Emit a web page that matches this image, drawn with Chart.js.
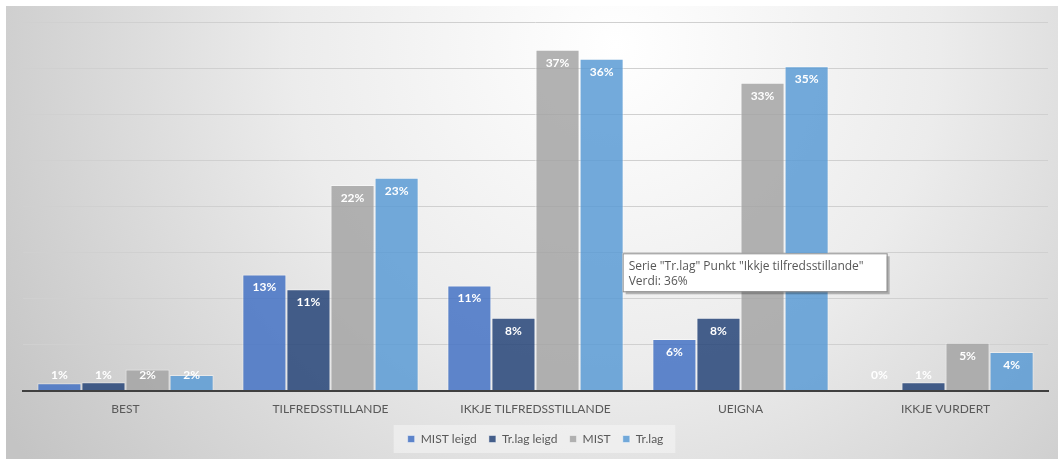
<!DOCTYPE html>
<html>
<head>
<meta charset="utf-8">
<script src="https://cdn.jsdelivr.net/npm/chart.js@4"></script>
<style>
  html, body { margin: 0; padding: 0; background: #fff; }
  #wrap { position: absolute; left: 6px; top: 6px; width: 1052px; height: 453px; }
</style>
</head>
<body>
<div id="wrap"><canvas id="chart" width="1052" height="453"></canvas></div>
<script>
// values (percent)
const categories = ['BEST', 'TILFREDSSTILLANDE', 'IKKJE TILFREDSSTILLANDE', 'UEIGNA', 'IKKJE VURDERT'];
const mistLeigd = [0.8, 12.6, 11.4, 5.6, 0];
const trlagLeigd = [0.9, 11.0, 7.9, 7.9, 0.9];
const mist = [2.3, 22.3, 37.0, 33.4, 5.2];
const trlag = [1.7, 23.1, 36.0, 35.2, 4.2];
const seriesNames = ['MIST leigd', 'Tr.lag leigd', 'MIST', 'Tr.lag'];
const seriesColors = ['rgba(68,114,196,0.85)', 'rgba(38,68,120,0.85)', 'rgba(165,165,165,0.85)', 'rgba(91,155,213,0.85)'];

const font = 'Lato, "Open Sans", sans-serif';

// radial background and legend panel
const backgroundPlugin = {
  id: 'background',
  beforeDraw(chart) {
    const ctx = chart.ctx;
    const w = chart.width, h = chart.height;
    ctx.save();
    const g = ctx.createRadialGradient(610, 40, 0, 610, 40, 720);
    g.addColorStop(0, '#ffffff');
    g.addColorStop(0.45, '#ececec');
    g.addColorStop(1, '#c4c4c4');
    ctx.fillStyle = g;
    ctx.fillRect(0, 0, w, h);
    const boxes = chart.legend && chart.legend.legendHitBoxes;
    if (boxes && boxes.length) {
      const l = Math.min(...boxes.map(b => b.left)) - 14;
      const r = Math.max(...boxes.map(b => b.left + b.width)) + 12;
      const t = boxes[0].top - 8;
      const b = boxes[0].top + boxes[0].height + 8;
      ctx.fillStyle = 'rgba(245,245,245,0.55)';
      ctx.fillRect(l, t, r - l, b - t);
    }
    ctx.restore();
  }
};

// value labels, Excel style "inside end"
const valueLabels = {
  id: 'valueLabels',
  afterDatasetsDraw(chart) {
    const ctx = chart.ctx;
    ctx.save();
    ctx.font = 'bold 12px ' + font;
    ctx.fillStyle = '#ffffff';
    ctx.textAlign = 'center';
    ctx.textBaseline = 'middle';
    chart.data.datasets.forEach((ds, i) => {
      chart.getDatasetMeta(i).data.forEach((bar, j) => {
        const y = Math.min(bar.y + 13, bar.base - 15);
        ctx.fillText(Math.round(ds.data[j]) + '%', bar.x, y);
      });
    });
    ctx.restore();
  }
};

// the hover box seen in the picture
const hoverBox = {
  id: 'hoverBox',
  afterDraw(chart) {
    const bar = chart.getDatasetMeta(3).data[2];
    const ctx = chart.ctx;
    const x = bar.x + bar.width / 2 - 1;
    const y = chart.scales.y.getPixelForValue(14.9);
    const w = 264, h = 38;
    ctx.save();
    ctx.fillStyle = 'rgba(0,0,0,0.25)';
    ctx.fillRect(x + 3, y + 3, w, h);
    ctx.fillStyle = '#ffffff';
    ctx.fillRect(x, y, w, h);
    ctx.strokeStyle = '#8c8c8c';
    ctx.lineWidth = 1;
    ctx.strokeRect(x + 0.5, y + 0.5, w, h);
    ctx.fillStyle = '#575757';
    ctx.font = '12px "Open Sans", sans-serif';
    ctx.textBaseline = 'middle';
    ctx.fillText('Serie "' + seriesNames[3] + '" Punkt "Ikkje tilfredsstillande"', x + 6, y + 13);
    ctx.fillText('Verdi: ' + Math.round(trlag[2]) + '%', x + 6, y + 28);
    ctx.restore();
  }
};

const datasets = [mistLeigd, trlagLeigd, mist, trlag].map((values, i) => ({
  label: seriesNames[i],
  data: values,
  backgroundColor: seriesColors[i],
  borderColor: 'rgba(255,255,255,0.45)',
  borderWidth: 1,
  categoryPercentage: 0.86,
  barPercentage: 1.0
}));

new Chart(document.getElementById('chart'), {
  type: 'bar',
  data: { labels: categories, datasets: datasets },
  options: {
    responsive: false,
    animation: false,
    layout: { padding: { left: 17, right: 10, top: 16, bottom: 4 } },
    plugins: {
      legend: {
        position: 'bottom',
        labels: {
          boxWidth: 7,
          boxHeight: 7,
          padding: 6,
          color: '#595959',
          font: { family: font, size: 12 },
          // a little extra room between the legend entries
          generateLabels(chart) {
            const items = Chart.defaults.plugins.legend.labels.generateLabels(chart);
            items.forEach((item, i) => {
              if (i < items.length - 1) item.text += '  ';
            });
            return items;
          }
        }
      },
      tooltip: { enabled: false }
    },
    scales: {
      x: {
        grid: { display: false, drawTicks: false },
        border: { color: '#404040', width: 2 },
        ticks: { color: '#595959', font: { family: font, size: 12 }, padding: 11 }
      },
      y: {
        min: 0,
        max: 40,
        ticks: { display: false, stepSize: 5 },
        grid: { color: '#d0d0d0', drawTicks: false },
        border: { display: false }
      }
    }
  },
  plugins: [backgroundPlugin, valueLabels, hoverBox]
});
</script>
</body>
</html>
